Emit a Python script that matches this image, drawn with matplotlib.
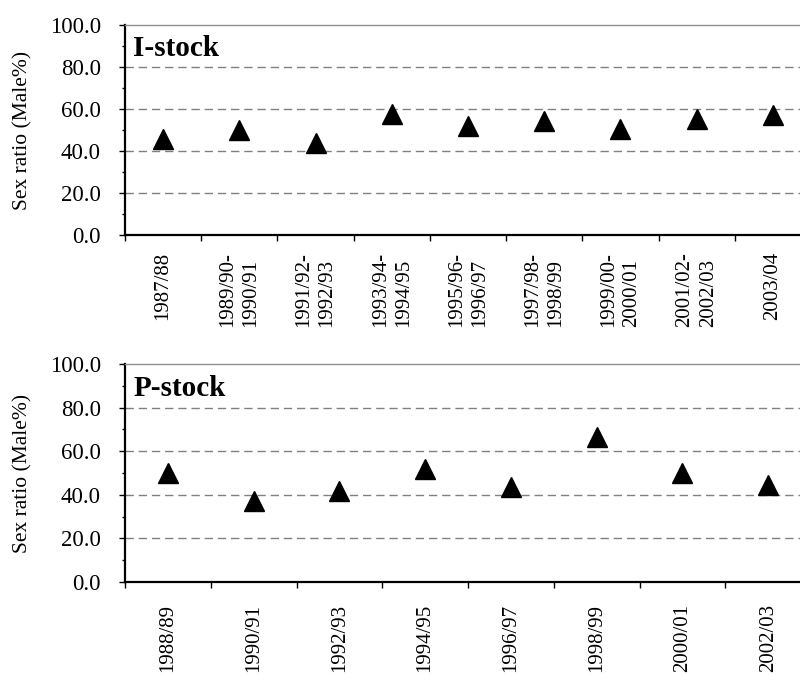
import matplotlib.pyplot as plt
from matplotlib.ticker import MultipleLocator, FixedLocator, NullFormatter, FormatStrFormatter

plt.rcParams['font.family'] = ['Liberation Serif', 'DejaVu Serif']

# I-stock: sex ratio by season group
i_seasons = ['1987/88', '1989/90-\n1990/91', '1991/92-\n1992/93', '1993/94-\n1994/95',
             '1995/96-\n1996/97', '1997/98-\n1998/99', '1999/00-\n2000/01',
             '2001/02-\n2002/03', '2003/04']
i_male = [45.7, 49.8, 44.0, 57.6, 51.7, 54.5, 50.6, 55.4, 57.3]

# P-stock: sex ratio by season
p_seasons = ['1988/89', '1990/91', '1992/93', '1994/95', '1996/97', '1998/99',
             '2000/01', '2002/03']
p_male = [49.9, 37.1, 41.8, 51.9, 43.7, 66.7, 50.2, 44.6]

fig = plt.figure(figsize=(8, 6.75), dpi=100)
ax1 = fig.add_axes([0.15625, 0.6519, 0.8575, 0.3111])
ax2 = fig.add_axes([0.15625, 0.1378, 0.8575, 0.3230])


def draw_panel(ax, seasons, values, name, xpad):
    n = len(seasons)
    x = [i + 0.5 for i in range(n)]
    ax.plot(x, values, linestyle='none', marker='^', markersize=15, color='black',
            clip_on=False, zorder=3)
    ax.set_xlim(0, n)
    ax.set_ylim(0, 100)

    # dashed grid lines, the top one darker over a grey border
    for v in [20, 40, 60, 80]:
        ax.axhline(v, color='#808080', lw=1.0, dashes=(6, 3.5), zorder=1)
    ax.axhline(100, color='#404040', lw=1.4, dashes=(6, 2), zorder=2)
    ax.spines['top'].set_color('#909090')
    ax.spines['top'].set_linewidth(1.0)
    ax.spines['right'].set_visible(False)
    ax.spines['left'].set_linewidth(1.6)
    ax.spines['bottom'].set_linewidth(1.6)

    ax.yaxis.set_major_locator(MultipleLocator(20))
    ax.yaxis.set_minor_locator(MultipleLocator(10))
    ax.yaxis.set_major_formatter(FormatStrFormatter('%.1f'))
    ax.tick_params(axis='y', which='major', direction='out', length=4.5, width=1,
                   labelsize=16.5, pad=13)
    ax.tick_params(axis='y', which='minor', direction='out', length=2.5, width=1)

    # tick marks on category boundaries, labels at category centres
    ax.xaxis.set_major_locator(FixedLocator(range(n + 1)))
    ax.xaxis.set_major_formatter(NullFormatter())
    ax.xaxis.set_minor_locator(FixedLocator(x))
    ax.set_xticklabels(seasons, minor=True, rotation=90, va='top', ha='center',
                       multialignment='left', linespacing=1.3)
    ax.tick_params(axis='x', which='major', direction='out', length=4, width=1)
    ax.tick_params(axis='x', which='minor', length=0, labelsize=15, pad=xpad)

    ax.set_ylabel('Sex ratio (Male%)', fontsize=15.5)
    ax.yaxis.set_label_coords(-0.135, 0.5)
    ax.text(0.012, 0.95, name, transform=ax.transAxes, fontsize=21,
            fontweight='bold', va='top', ha='left')


draw_panel(ax1, i_seasons, i_male, 'I-stock', 12)
draw_panel(ax2, p_seasons, p_male, 'P-stock', 16)

fig.savefig('out.png', dpi=100)
